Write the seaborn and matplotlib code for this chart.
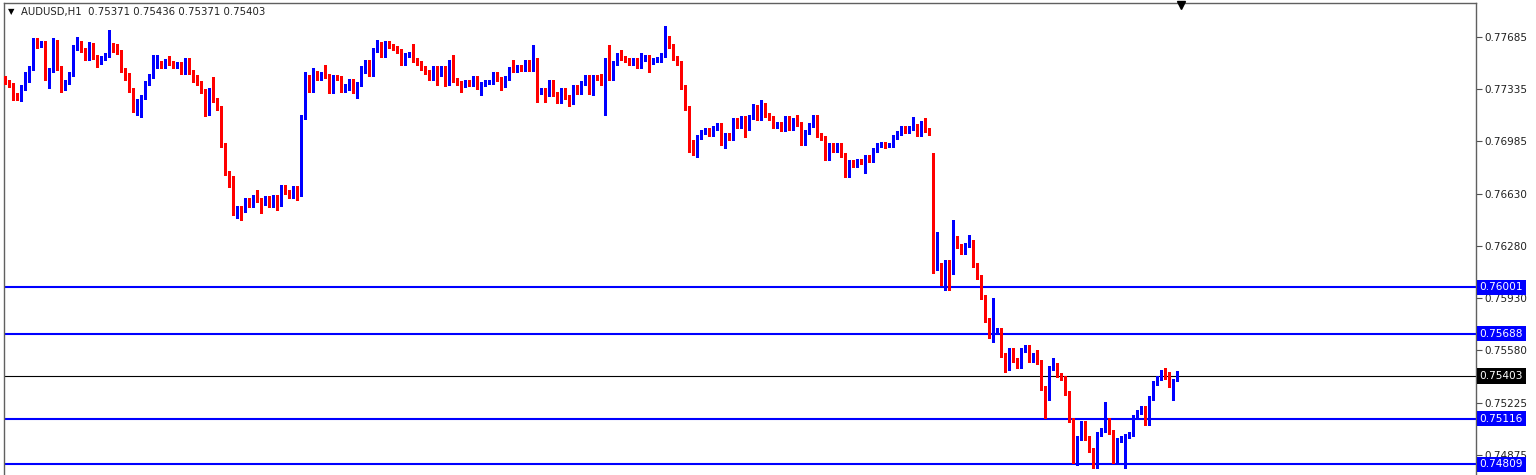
import numpy as np
import pandas as pd
import matplotlib
matplotlib.use("Agg")
import matplotlib.pyplot as plt
import seaborn as sns
from matplotlib.transforms import blended_transform_factory

# --- AUDUSD H1 candles, prices in points (1 point = 0.00001) ---
opens = [
    77409, 77382, 77362, 77295, 77281, 77342, 77429, 77476, 77645, 77631,
    77645, 77449, 77463, 77645, 77476, 77342, 77382, 77436, 77618, 77645,
    77598, 77544, 77631, 77550, 77517, 77544, 77564, 77631, 77598, 77584,
    77463, 77429, 77328, 77221, 77254, 77281, 77375, 77423, 77497, 77510,
    77490, 77524, 77510, 77490, 77503, 77449, 77530, 77449, 77396, 77375,
    77322, 77173, 77315, 77261, 77207, 76958, 76770, 76736, 76507, 76534,
    76521, 76588, 76554, 76608, 76588, 76568, 76602, 76554, 76608, 76561,
    76676, 76642, 76615, 76669, 76628, 77147, 77416, 77328, 77443, 77409,
    77436, 77423, 77322, 77416, 77409, 77328, 77342, 77389, 77322, 77369,
    77476, 77517, 77436, 77598, 77638, 77564, 77645, 77624, 77611, 77591,
    77510, 77564, 77571, 77530, 77510, 77476, 77449, 77409, 77476, 77436,
    77476, 77375, 77503, 77396, 77375, 77362, 77382, 77369, 77409, 77348,
    77369, 77382, 77386, 77436, 77402, 77362, 77409, 77470, 77463, 77483,
    77470, 77517, 77470, 77530, 77315, 77328, 77301, 77382, 77301, 77254,
    77328, 77281, 77247, 77348, 77315, 77375, 77416, 77315, 77416, 77409,
    77375, 77530, 77409, 77510, 77564, 77544, 77530, 77510, 77530, 77490,
    77537, 77550, 77517, 77530, 77534, 77564, 77678, 77624, 77544, 77510,
    77348, 77207, 76958, 76938, 77012, 77046, 77059, 77032, 77072, 77093,
    76972, 77025, 77005, 77126, 77086, 77140, 77072, 77147, 77214, 77140,
    77227, 77160, 77140, 77086, 77099, 77066, 77140, 77072, 77126, 77099,
    76972, 77046, 77093, 77147, 77025, 77005, 76871, 76958, 76925, 76958,
    76891, 76756, 76844, 76824, 76851, 76844, 76877, 76857, 76925, 76958,
    76965, 76951, 76958, 77012, 77039, 77072, 77052, 77072, 77086, 77032,
    77106, 77059, 76891, 76137, 76150, 76043, 76171, 76103, 76332, 76278,
    76238, 76285, 76305, 76150, 76070, 75935, 75780, 75679, 75700, 75713,
    75545, 75457, 75579, 75511, 75471, 75579, 75599, 75511, 75545, 75498,
    75323, 75256, 75457, 75477, 75410, 75390, 75289, 75107, 74838, 74986,
    75087, 74986, 74905, 74798, 75013, 75040, 75107, 75026, 74838, 74973,
    74986, 74999, 75013, 75127, 75161, 75188, 75087, 75256, 75356, 75390,
    75430, 75397, 75343, 75371,
]
highs = [
    77423, 77396, 77375, 77308, 77362, 77449, 77490, 77678, 77678, 77658,
    77658, 77476, 77678, 77665, 77490, 77396, 77449, 77631, 77685, 77658,
    77611, 77651, 77645, 77564, 77557, 77577, 77732, 77645, 77638, 77598,
    77476, 77443, 77342, 77268, 77295, 77389, 77436, 77564, 77564, 77524,
    77537, 77557, 77524, 77517, 77517, 77544, 77544, 77463, 77429, 77389,
    77335, 77342, 77416, 77274, 77221, 76972, 76783, 76749, 76548, 76548,
    76602, 76602, 76622, 76655, 76602, 76615, 76615, 76622, 76622, 76689,
    76689, 76655, 76682, 76682, 77160, 77449, 77429, 77476, 77456, 77449,
    77497, 77436, 77429, 77429, 77423, 77369, 77402, 77402, 77382, 77490,
    77530, 77530, 77611, 77665, 77651, 77658, 77658, 77638, 77624, 77604,
    77577, 77584, 77638, 77544, 77524, 77490, 77463, 77490, 77490, 77490,
    77490, 77530, 77564, 77409, 77389, 77396, 77396, 77423, 77423, 77382,
    77396, 77396, 77449, 77449, 77416, 77423, 77483, 77530, 77497, 77497,
    77530, 77530, 77631, 77544, 77342, 77342, 77396, 77396, 77315, 77342,
    77342, 77295, 77362, 77362, 77389, 77429, 77429, 77429, 77429, 77436,
    77544, 77631, 77524, 77577, 77598, 77557, 77544, 77544, 77544, 77577,
    77564, 77564, 77544, 77550, 77577, 77759, 77692, 77638, 77557, 77524,
    77362, 77221, 76992, 77025, 77059, 77072, 77072, 77086, 77106, 77106,
    77039, 77039, 77140, 77140, 77153, 77153, 77160, 77234, 77227, 77261,
    77241, 77173, 77153, 77113, 77113, 77153, 77153, 77140, 77160, 77113,
    77059, 77106, 77160, 77160, 77039, 77019, 76972, 76972, 76972, 76972,
    76904, 76857, 76857, 76864, 76864, 76891, 76891, 76938, 76972, 76978,
    76978, 76972, 77025, 77052, 77086, 77086, 77086, 77147, 77099, 77120,
    77140, 77072, 76904, 76373, 76164, 76184, 76184, 76453, 76346, 76292,
    76299, 76352, 76319, 76164, 76083, 75949, 75794, 75928, 75727, 75727,
    75558, 75592, 75592, 75525, 75592, 75612, 75612, 75558, 75579, 75511,
    75336, 75471, 75525, 75491, 75424, 75404, 75303, 75121, 74999, 75100,
    75100, 74999, 74919, 75026, 75053, 75229, 75121, 75040, 74986, 74999,
    75013, 75026, 75141, 75175, 75202, 75202, 75269, 75370, 75404, 75444,
    75457, 75430, 75383, 75436,
]
lows = [
    77369, 77348, 77261, 77261, 77254, 77328, 77382, 77463, 77611, 77618,
    77396, 77342, 77449, 77463, 77315, 77328, 77369, 77423, 77598, 77584,
    77530, 77530, 77537, 77483, 77503, 77530, 77550, 77584, 77571, 77449,
    77396, 77315, 77180, 77160, 77147, 77268, 77362, 77409, 77476, 77476,
    77476, 77497, 77476, 77476, 77436, 77436, 77436, 77382, 77362, 77308,
    77153, 77160, 77247, 77194, 76945, 76756, 76676, 76487, 76467, 76453,
    76507, 76541, 76541, 76574, 76500, 76554, 76541, 76541, 76521, 76548,
    76628, 76602, 76602, 76588, 76615, 77133, 77315, 77315, 77396, 77396,
    77409, 77308, 77308, 77396, 77315, 77315, 77328, 77308, 77274, 77355,
    77443, 77423, 77423, 77584, 77550, 77550, 77611, 77598, 77577, 77497,
    77497, 77550, 77517, 77497, 77463, 77436, 77396, 77396, 77362, 77423,
    77355, 77362, 77382, 77362, 77315, 77348, 77355, 77355, 77335, 77295,
    77355, 77369, 77369, 77389, 77328, 77348, 77396, 77449, 77449, 77456,
    77456, 77456, 77456, 77247, 77301, 77247, 77288, 77288, 77241, 77241,
    77268, 77221, 77234, 77301, 77301, 77362, 77301, 77295, 77396, 77362,
    77160, 77396, 77396, 77497, 77530, 77517, 77497, 77497, 77476, 77476,
    77524, 77449, 77503, 77517, 77517, 77550, 77611, 77530, 77497, 77335,
    77194, 76911, 76891, 76877, 76998, 77032, 77019, 77019, 77059, 76958,
    76938, 76992, 76992, 77072, 77072, 77012, 77059, 77133, 77126, 77126,
    77147, 77126, 77072, 77072, 77052, 77052, 77059, 77059, 77086, 76958,
    76958, 77032, 77079, 77012, 76992, 76857, 76857, 76911, 76911, 76877,
    76743, 76743, 76810, 76810, 76830, 76770, 76844, 76844, 76911, 76945,
    76938, 76945, 76945, 76998, 77025, 77039, 77039, 77059, 77019, 77019,
    77046, 77025, 76097, 76117, 76016, 75982, 75982, 76090, 76265, 76225,
    76225, 76272, 76137, 76056, 75922, 75767, 75659, 75632, 75686, 75531,
    75430, 75444, 75498, 75457, 75457, 75565, 75498, 75498, 75484, 75309,
    75121, 75242, 75444, 75397, 75377, 75276, 75094, 74818, 74804, 74973,
    74973, 74892, 74784, 74784, 74999, 75026, 75013, 74818, 74825, 74959,
    74784, 74986, 74999, 75114, 75148, 75073, 75073, 75242, 75343, 75377,
    75383, 75329, 75242, 75371,
]
closes = [
    77382, 77362, 77295, 77281, 77342, 77429, 77476, 77645, 77631, 77645,
    77449, 77463, 77645, 77476, 77342, 77382, 77436, 77618, 77645, 77598,
    77544, 77631, 77550, 77517, 77544, 77564, 77631, 77598, 77584, 77463,
    77429, 77328, 77221, 77254, 77281, 77375, 77423, 77497, 77510, 77490,
    77524, 77510, 77490, 77503, 77449, 77530, 77449, 77396, 77375, 77322,
    77173, 77315, 77261, 77207, 76958, 76770, 76736, 76507, 76534, 76521,
    76588, 76554, 76608, 76588, 76568, 76602, 76554, 76608, 76561, 76676,
    76642, 76615, 76669, 76628, 77147, 77416, 77328, 77443, 77409, 77436,
    77423, 77322, 77416, 77409, 77328, 77342, 77389, 77322, 77369, 77476,
    77517, 77436, 77598, 77638, 77564, 77645, 77624, 77611, 77591, 77510,
    77564, 77571, 77530, 77510, 77476, 77449, 77409, 77476, 77436, 77476,
    77375, 77503, 77396, 77375, 77362, 77382, 77369, 77409, 77348, 77369,
    77382, 77386, 77436, 77402, 77362, 77409, 77470, 77463, 77483, 77470,
    77517, 77470, 77530, 77315, 77328, 77301, 77382, 77301, 77254, 77328,
    77281, 77247, 77348, 77315, 77375, 77416, 77315, 77416, 77409, 77375,
    77530, 77409, 77510, 77564, 77544, 77530, 77510, 77530, 77490, 77537,
    77550, 77517, 77530, 77534, 77564, 77678, 77624, 77544, 77510, 77348,
    77207, 76958, 76938, 77012, 77046, 77059, 77032, 77072, 77093, 76972,
    77025, 77005, 77126, 77086, 77140, 77072, 77147, 77214, 77140, 77227,
    77160, 77140, 77086, 77099, 77066, 77140, 77072, 77126, 77099, 76972,
    77046, 77093, 77147, 77025, 77005, 76871, 76958, 76925, 76958, 76891,
    76756, 76844, 76824, 76851, 76844, 76877, 76857, 76925, 76958, 76965,
    76951, 76958, 77012, 77039, 77072, 77052, 77072, 77086, 77032, 77106,
    77059, 77039, 76137, 76150, 76043, 76171, 76103, 76332, 76278, 76238,
    76285, 76305, 76150, 76070, 75935, 75780, 75679, 75700, 75713, 75545,
    75457, 75579, 75511, 75471, 75579, 75599, 75511, 75545, 75498, 75323,
    75256, 75457, 75477, 75410, 75390, 75289, 75107, 74838, 74986, 75087,
    74986, 74905, 74798, 75013, 75040, 75107, 75026, 74838, 74973, 74986,
    74999, 75013, 75127, 75161, 75188, 75087, 75256, 75356, 75390, 75430,
    75397, 75343, 75370, 75403,
]

# horizontal levels drawn on the chart
levels = [0.76001, 0.75688, 0.75116, 0.74809]
price_ticks = [0.77685, 0.77335, 0.76985, 0.76630, 0.76280,
               0.75930, 0.75580, 0.75225, 0.74875]
symbol = "AUDUSD,H1"

BULL = "#0000FF"
BEAR = "#FF0000"

sns.set_theme(style="white")
plt.rcParams["font.family"] = ["DejaVu Sans"]

df = pd.DataFrame({"open": opens, "high": highs, "low": lows, "close": closes}) / 1e5
df["x"] = np.arange(len(df))
colors = np.where(df["close"] >= df["open"], BULL, BEAR)

W, H = 1536, 475
fig = plt.figure(figsize=(W / 100, H / 100), dpi=100)
fig.patch.set_facecolor("white")
ax = fig.add_axes([4 / W, 1 - 480 / H, 1472 / W, 477 / H])
ax.set_facecolor("white")

# wicks and bodies
ax.vlines(df["x"], df["low"], df["high"], colors=colors, linewidth=0.8,
          antialiased=False, zorder=3)
body = (df["close"] - df["open"]).abs().clip(lower=0.000015)
ax.bar(df["x"], body, bottom=df[["open", "close"]].min(axis=1), width=0.5,
       color=colors, linewidth=0, antialiased=False, zorder=3)

ax.set_xlim(-0.25, 367.75)
ax.set_ylim(0.747036, 0.779138)

# level lines + current price line
for lv in levels:
    ax.axhline(lv, color=BULL, linewidth=1.5, zorder=2)
last = df.iloc[-1]
ax.axhline(last["close"], color="black", linewidth=0.8, zorder=2)

# right price scale
ax.yaxis.tick_right()
ax.set_yticks(price_ticks)
ax.set_yticklabels([f"{t:.5f}" for t in price_ticks])
ax.tick_params(axis="y", direction="out", length=4, width=0.8, color="#505050",
               labelsize=7.5, pad=2, labelcolor="#202020")
ax.set_xticks([])
for side in ["top", "left", "right"]:
    ax.spines[side].set_color("#606060")
    ax.spines[side].set_linewidth(1.0)
ax.spines["bottom"].set_visible(False)

trans = blended_transform_factory(ax.transAxes, ax.transData)
for lv in levels:
    ax.text(1.0025, lv, f"{lv:.5f}", transform=trans, ha="left", va="center",
            color="white", fontsize=7.6, zorder=6, clip_on=False,
            bbox=dict(boxstyle="square,pad=0.25", fc=BULL, ec="none"))
ax.text(1.0025, last["close"], f"{last['close']:.5f}", transform=trans,
        ha="left", va="center", color="white", fontsize=7.6, zorder=6,
        clip_on=False, bbox=dict(boxstyle="square,pad=0.25", fc="black", ec="none"))

# header line: symbol + last OHLC
fig.text(8 / W, 1 - 12 / H, "\u25bc", fontsize=6, color="black", va="center")
header = (f"{symbol}  {last['open']:.5f} {last['high']:.5f} "
          f"{last['low']:.5f} {last['close']:.5f}")
fig.text(21 / W, 1 - 12 / H, header, fontsize=7.3, color="#202020", va="center")

# chart shift marker
ax.plot([(1181 - 4) / 1472], [0.9948], marker="v", markersize=6, color="black",
        transform=ax.transAxes, clip_on=False, zorder=7)

fig.savefig("out.png", dpi=100, facecolor="white")
